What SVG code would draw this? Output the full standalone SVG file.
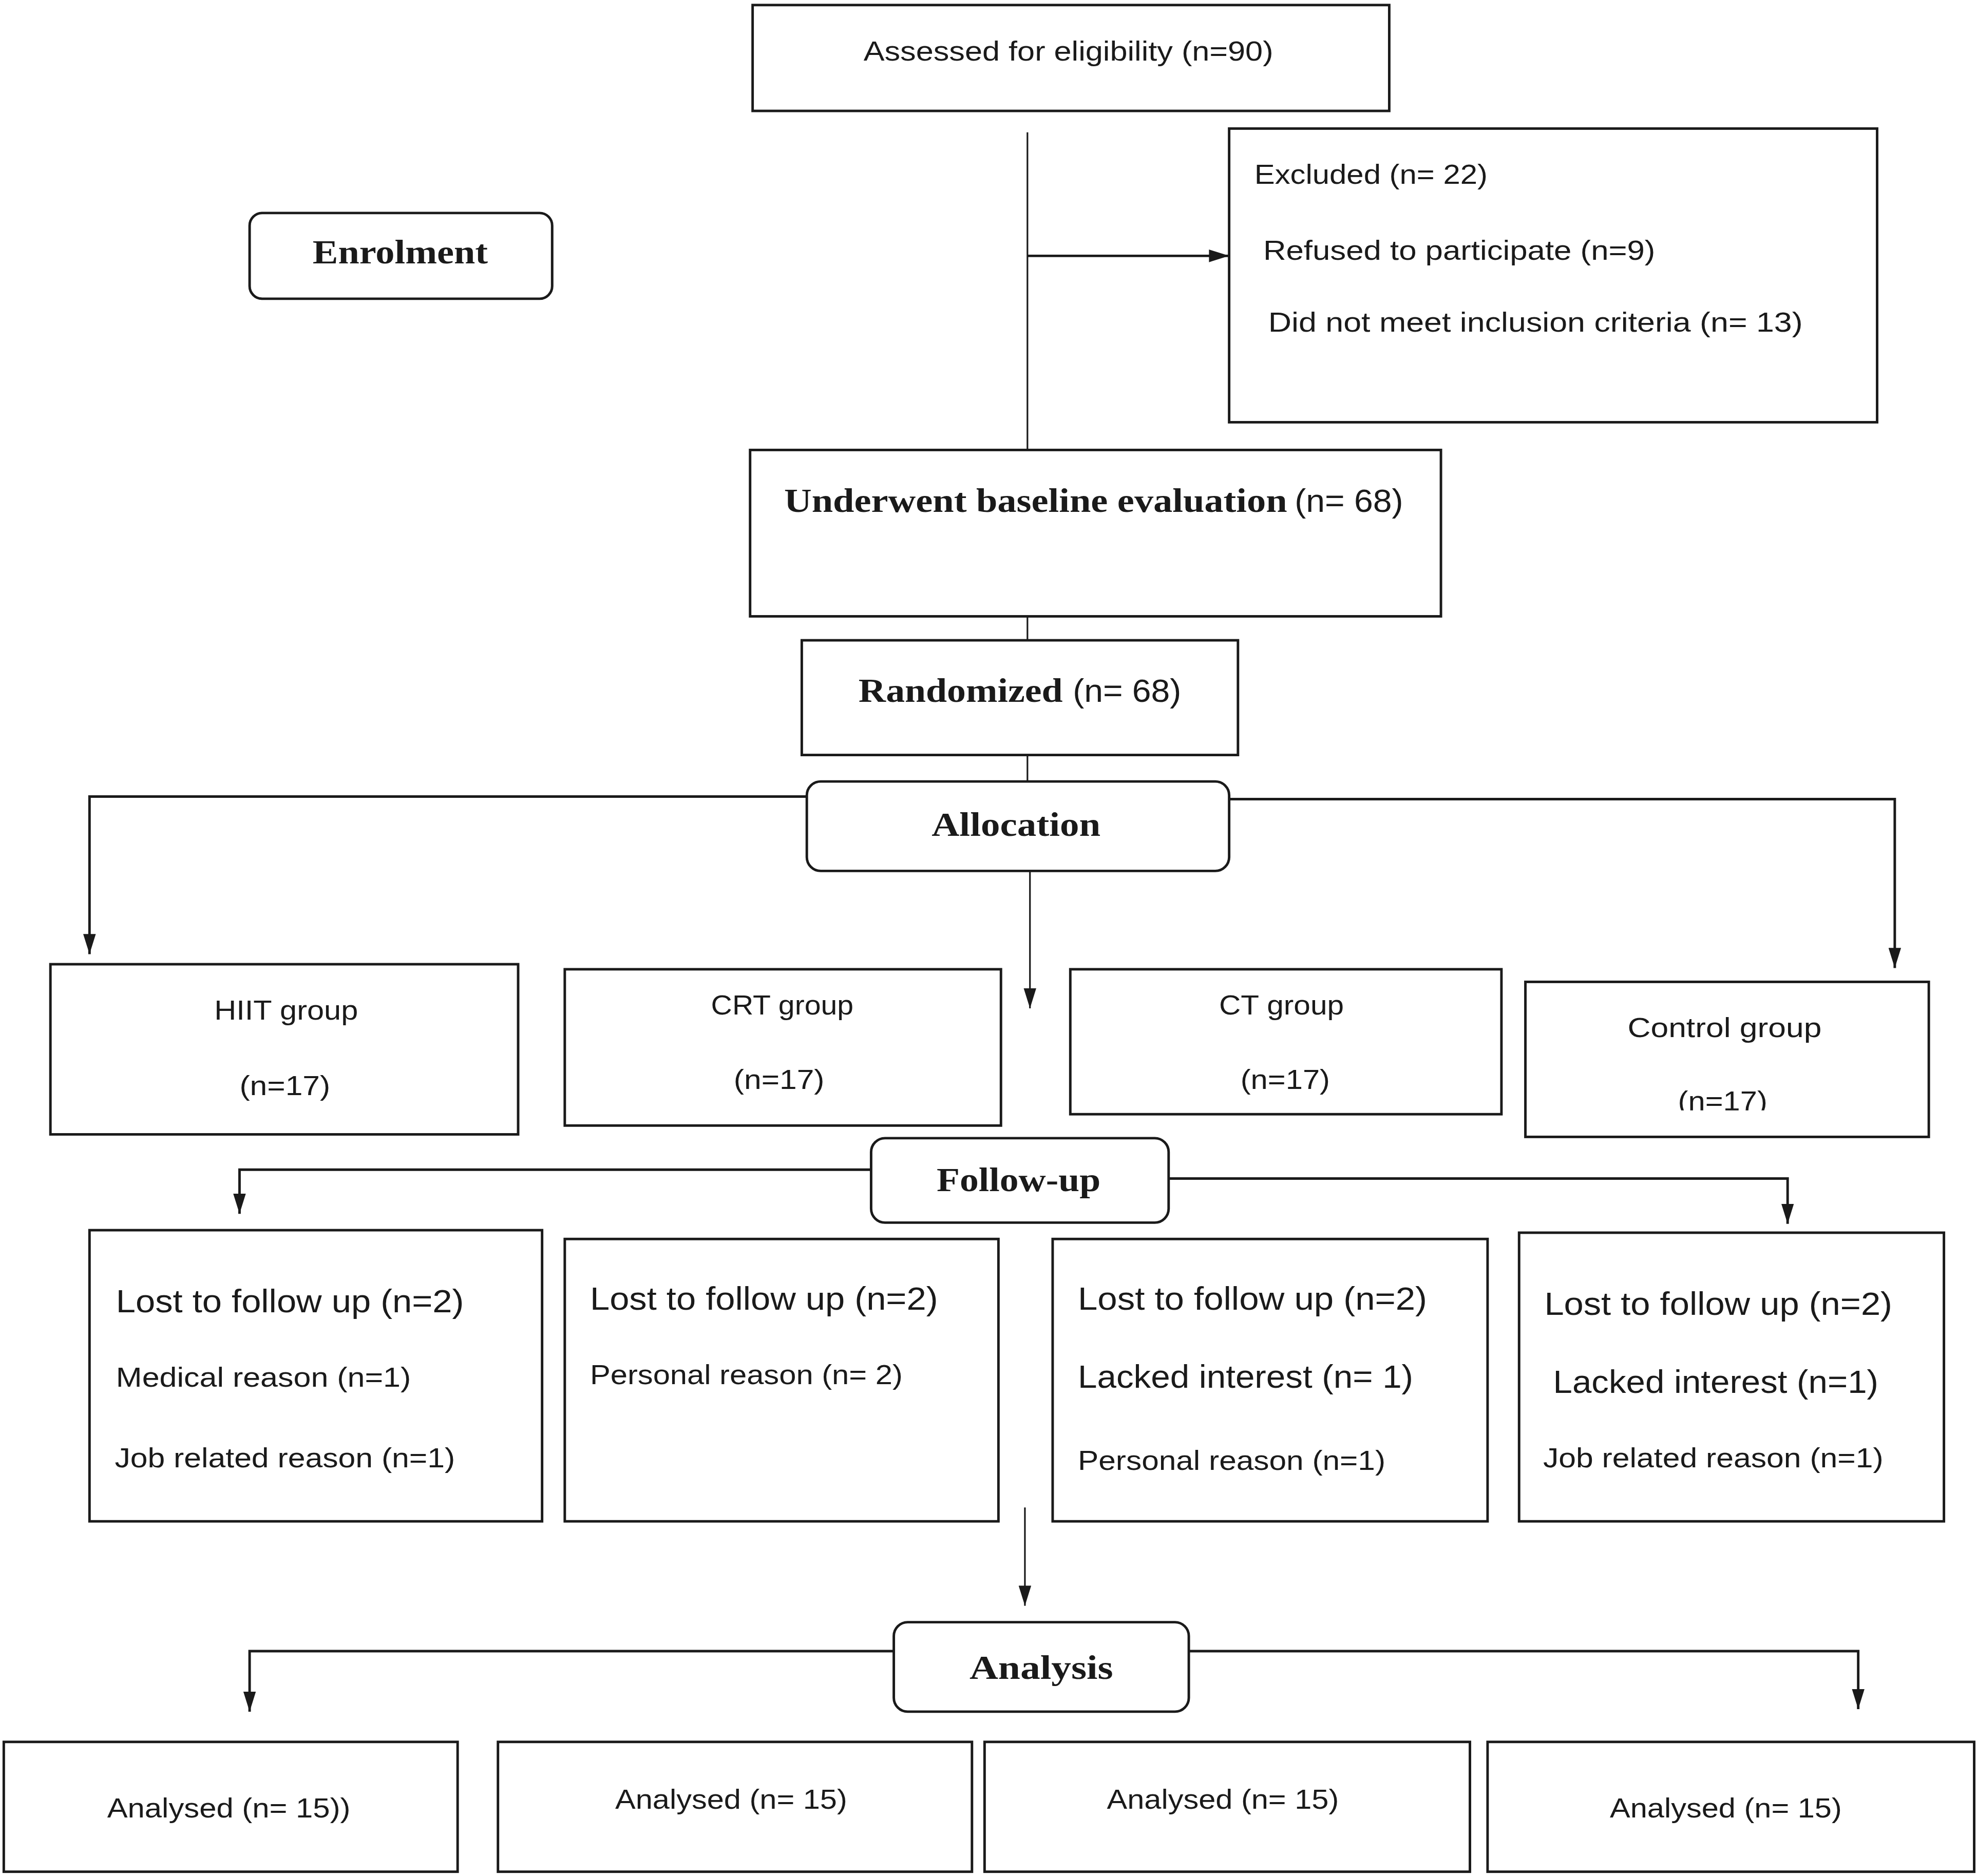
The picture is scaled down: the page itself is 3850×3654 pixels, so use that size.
<svg xmlns="http://www.w3.org/2000/svg" width="3850" height="3654" viewBox="0 0 3850 3654">
<style>
.box{fill:#fff;stroke:#1a1a1a;stroke-width:2}
.rbox{fill:#fff;stroke:#1a1a1a;stroke-width:2}
.ln{fill:none;stroke:#1a1a1a;stroke-width:2}
.lt{fill:none;stroke:#1a1a1a;stroke-width:1.3}
.s{font-family:"Liberation Sans",Arial,sans-serif;fill:#1a1a1a;font-size:22px}
.m{font-family:"Liberation Sans",Arial,sans-serif;fill:#1a1a1a;font-size:26px}
.b{font-family:"Liberation Serif","Times New Roman",serif;font-weight:bold;fill:#1a1a1a;font-size:27px}
</style>
<defs>
<marker id="ah2" viewBox="0 0 16 10" refX="16" refY="5" markerWidth="16" markerHeight="10" markerUnits="userSpaceOnUse" orient="auto">
<path d="M0,0 L16,5 L0,10 z" fill="#1a1a1a"/>
</marker>
<clipPath id="cclip"><rect x="1210" y="779" width="320" height="102"/></clipPath>
</defs>
<rect width="3850" height="3654" fill="#fff"/>
<g transform="scale(2.455)">
<g id="connectors">
<line class="lt" x1="815" y1="105" x2="815" y2="357"/>
<line class="ln" x1="815" y1="203" x2="975" y2="203" marker-end="url(#ah2)"/>
<line class="lt" x1="815" y1="489" x2="815" y2="508"/>
<line class="lt" x1="815" y1="599" x2="815" y2="620"/>
<polyline class="ln" points="640,632 71,632 71,757" marker-end="url(#ah2)"/>
<polyline class="ln" points="975,634 1503,634 1503,768" marker-end="url(#ah2)"/>
<line class="lt" x1="817" y1="691" x2="817" y2="800" marker-end="url(#ah2)"/>
<polyline class="ln" points="691,928 190,928 190,963" marker-end="url(#ah2)"/>
<polyline class="ln" points="927,935 1418,935 1418,971" marker-end="url(#ah2)"/>
<line class="lt" x1="813" y1="1196" x2="813" y2="1274" marker-end="url(#ah2)"/>
<polyline class="ln" points="709,1310 198,1310 198,1358" marker-end="url(#ah2)"/>
<polyline class="ln" points="943,1310 1474,1310 1474,1356" marker-end="url(#ah2)"/>
</g>
<g id="assessed">
<rect class="box" x="597" y="4" width="505" height="84"/>
<text class="s" x="685" y="48" textLength="325" lengthAdjust="spacingAndGlyphs">Assessed for eligibility (n=90)</text>
</g>
<g id="excluded">
<rect class="box" x="975" y="102" width="514" height="233"/>
<text class="s" x="995" y="146" font-size="24" textLength="185" lengthAdjust="spacingAndGlyphs">Excluded (n= 22)</text>
<text class="s" x="1002" y="206" font-size="24" textLength="311" lengthAdjust="spacingAndGlyphs">Refused to participate (n=9)</text>
<text class="s" x="1006" y="263" font-size="24" textLength="424" lengthAdjust="spacingAndGlyphs">Did not meet inclusion criteria (n= 13)</text>
</g>
<g id="enrolment">
<rect class="rbox" x="198" y="169" width="240" height="68" rx="10"/>
<text class="b" x="248" y="209" textLength="139" lengthAdjust="spacingAndGlyphs">Enrolment</text>
</g>
<g id="baseline">
<rect class="box" x="595" y="357" width="548" height="132"/>
<text class="b" x="622" y="406" textLength="399" lengthAdjust="spacingAndGlyphs">Underwent baseline evaluation</text>
<text class="m" x="1027" y="406" textLength="86" lengthAdjust="spacingAndGlyphs">(n= 68)</text>
</g>
<g id="randomized">
<rect class="box" x="636" y="508" width="346" height="91"/>
<text class="b" x="681" y="557" textLength="162" lengthAdjust="spacingAndGlyphs">Randomized</text>
<text class="m" x="851" y="557" textLength="86" lengthAdjust="spacingAndGlyphs">(n= 68)</text>
</g>
<g id="allocation">
<rect class="rbox" x="640" y="620" width="335" height="71" rx="11"/>
<text class="b" x="739" y="663" textLength="134" lengthAdjust="spacingAndGlyphs">Allocation</text>
</g>
<g id="hiit">
<rect class="box" x="40" y="765" width="371" height="135"/>
<text class="s" x="170" y="809" textLength="114" lengthAdjust="spacingAndGlyphs">HIIT group</text>
<text class="s" x="190" y="869" textLength="72" lengthAdjust="spacingAndGlyphs">(n=17)</text>
</g>
<g id="crt">
<rect class="box" x="448" y="769" width="346" height="124"/>
<text class="s" x="564" y="805" textLength="113" lengthAdjust="spacingAndGlyphs">CRT group</text>
<text class="s" x="582" y="864" textLength="72" lengthAdjust="spacingAndGlyphs">(n=17)</text>
</g>
<g id="ct">
<rect class="box" x="849" y="769" width="342" height="115"/>
<text class="s" x="967" y="805" textLength="99" lengthAdjust="spacingAndGlyphs">CT group</text>
<text class="s" x="984" y="864" textLength="71" lengthAdjust="spacingAndGlyphs">(n=17)</text>
</g>
<g id="control">
<rect class="box" x="1210" y="779" width="320" height="123"/>
<text class="s" x="1291" y="823" textLength="154" lengthAdjust="spacingAndGlyphs">Control group</text>
<text class="s" x="1331" y="881" clip-path="url(#cclip)" textLength="71" lengthAdjust="spacingAndGlyphs">(n=17)</text>
</g>
<g id="followup">
<rect class="rbox" x="691" y="903" width="236" height="67" rx="11"/>
<text class="b" x="743" y="945" textLength="130" lengthAdjust="spacingAndGlyphs">Follow-up</text>
</g>
<g id="loss1">
<rect class="box" x="71" y="976" width="359" height="231"/>
<text class="m" x="92" y="1041" textLength="276" lengthAdjust="spacingAndGlyphs">Lost to follow up (n=2)</text>
<text class="s" x="92" y="1100" font-size="24" textLength="234" lengthAdjust="spacingAndGlyphs">Medical reason (n=1)</text>
<text class="s" x="91" y="1164" font-size="24" textLength="270" lengthAdjust="spacingAndGlyphs">Job related reason (n=1)</text>
</g>
<g id="loss2">
<rect class="box" x="448" y="983" width="344" height="224"/>
<text class="m" x="468" y="1039" textLength="276" lengthAdjust="spacingAndGlyphs">Lost to follow up (n=2)</text>
<text class="s" x="468" y="1098" font-size="24" textLength="248" lengthAdjust="spacingAndGlyphs">Personal reason (n= 2)</text>
</g>
<g id="loss3">
<rect class="box" x="835" y="983" width="345" height="224"/>
<text class="m" x="855" y="1039" textLength="277" lengthAdjust="spacingAndGlyphs">Lost to follow up (n=2)</text>
<text class="m" x="855" y="1101" textLength="266" lengthAdjust="spacingAndGlyphs">Lacked interest (n= 1)</text>
<text class="s" x="855" y="1166" font-size="24" textLength="244" lengthAdjust="spacingAndGlyphs">Personal reason (n=1)</text>
</g>
<g id="loss4">
<rect class="box" x="1205" y="978" width="337" height="229"/>
<text class="m" x="1225" y="1043" textLength="276" lengthAdjust="spacingAndGlyphs">Lost to follow up (n=2)</text>
<text class="m" x="1232" y="1105" textLength="258" lengthAdjust="spacingAndGlyphs">Lacked interest (n=1)</text>
<text class="s" x="1224" y="1164" font-size="24" textLength="270" lengthAdjust="spacingAndGlyphs">Job related reason (n=1)</text>
</g>
<g id="analysis">
<rect class="rbox" x="709" y="1287" width="234" height="71" rx="11"/>
<text class="b" x="769" y="1332" font-size="29" textLength="114" lengthAdjust="spacingAndGlyphs">Analysis</text>
</g>
<g id="analysed1">
<rect class="box" x="3" y="1382" width="360" height="103"/>
<text class="s" x="85" y="1442" font-size="24" textLength="193" lengthAdjust="spacingAndGlyphs">Analysed (n= 15))</text>
</g>
<g id="analysed2">
<rect class="box" x="395" y="1382" width="376" height="103"/>
<text class="s" x="488" y="1435" font-size="24" textLength="184" lengthAdjust="spacingAndGlyphs">Analysed (n= 15)</text>
</g>
<g id="analysed3">
<rect class="box" x="781" y="1382" width="385" height="103"/>
<text class="s" x="878" y="1435" font-size="24" textLength="184" lengthAdjust="spacingAndGlyphs">Analysed (n= 15)</text>
</g>
<g id="analysed4">
<rect class="box" x="1180" y="1382" width="386" height="103"/>
<text class="s" x="1277" y="1442" font-size="24" textLength="184" lengthAdjust="spacingAndGlyphs">Analysed (n= 15)</text>
</g>
</g>
</svg>
